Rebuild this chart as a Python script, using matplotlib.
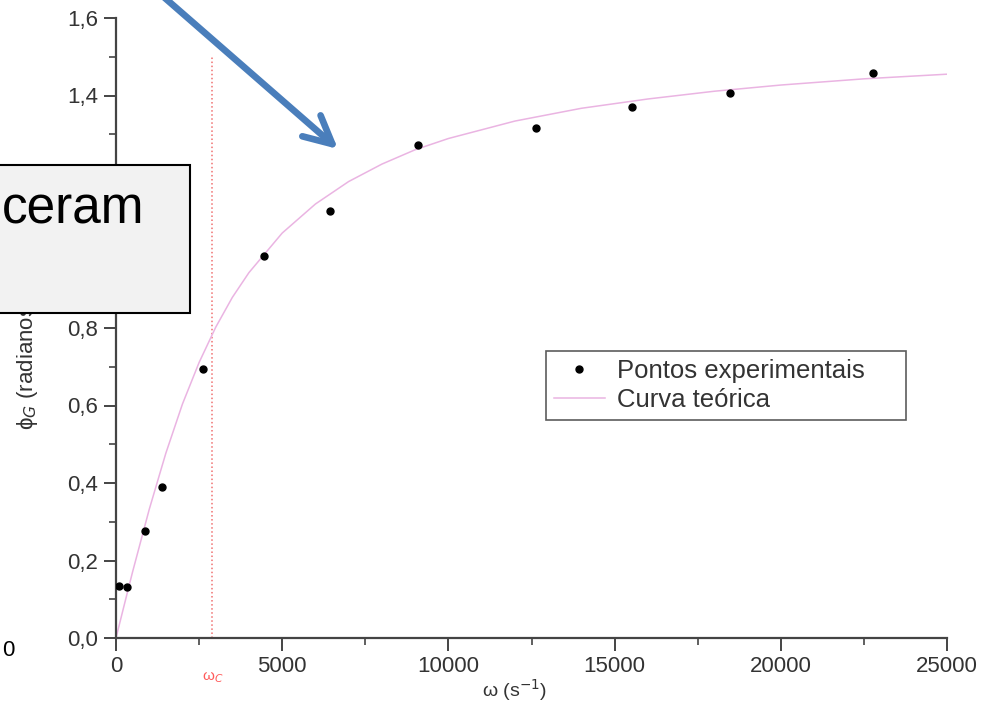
import matplotlib.pyplot as plt
from matplotlib.patches import Rectangle
from matplotlib.ticker import FuncFormatter, MultipleLocator

plt.rcParams['font.family'] = ['Liberation Sans', 'DejaVu Sans']

# experimental points (omega in s^-1, phase in rad)
w_exp = [100, 330, 870, 1380, 2620, 4450, 6440, 9080, 12630, 15520, 18470, 22770]
phi_exp = [0.135, 0.132, 0.276, 0.390, 0.695, 0.985, 1.101, 1.271, 1.315, 1.370, 1.406, 1.457]

# theoretical curve
w_teo = [0, 250, 500, 1000, 1500, 2000, 2500, 3000, 3500, 4000, 5000, 6000,
         7000, 8000, 9000, 10000, 12000, 14000, 16000, 18000, 20000, 22500, 25000]
phi_teo = [0.0, 0.086, 0.171, 0.332, 0.477, 0.604, 0.711, 0.802, 0.879, 0.943, 1.045, 1.120,
           1.178, 1.223, 1.260, 1.289, 1.334, 1.367, 1.391, 1.411, 1.427, 1.443, 1.455]

w_c = 2900
w_c_top = 1.5

fig = plt.figure(figsize=(9.84, 7.08), dpi=100)
ax = fig.add_axes([116/984, 1 - 638/708, (947 - 116)/984, (638 - 18)/708])

ax.plot(w_teo, phi_teo, color='#eab4e2', lw=1.1, label='Curva teórica', zorder=2)
ax.plot(w_exp, phi_exp, 'o', color='black', ms=5, label='Pontos experimentais', zorder=3)
ax.plot([w_c, w_c], [0, w_c_top], ls=':', color='#f07070', lw=1.1, zorder=1)

ax.set_xlim(0, 25000)
ax.set_ylim(0, 1.6)
for s in ['top', 'right']:
    ax.spines[s].set_visible(False)
for s in ['left', 'bottom']:
    ax.spines[s].set_linewidth(1.6)
    ax.spines[s].set_color('#444444')

ax.xaxis.set_major_locator(MultipleLocator(5000))
ax.xaxis.set_minor_locator(MultipleLocator(2500))
ax.yaxis.set_major_locator(MultipleLocator(0.2))
ax.yaxis.set_minor_locator(MultipleLocator(0.1))
ax.yaxis.set_major_formatter(FuncFormatter(lambda v, p: f"{v:.1f}".replace('.', ',')))
ax.tick_params(which='major', length=9, width=1.4, color='#444444',
               labelsize=16, labelcolor='#333333', pad=4)
ax.tick_params(which='minor', length=5, width=1.2, color='#444444')

# legend (box stretched to the width seen in the reference)
h, l = ax.get_legend_handles_labels()
leg = ax.legend(h[::-1], l[::-1], loc='upper left',
                bbox_to_anchor=(546/984, 1 - 416/708, 360/984, 65/708),
                bbox_transform=fig.transFigure, mode='expand', fontsize=18.5,
                frameon=True, fancybox=False, borderaxespad=0, handlelength=2.0,
                handletextpad=0.45, labelspacing=0.2, borderpad=0.3)
leg.get_frame().set_edgecolor('#333333')
leg.get_frame().set_linewidth(1.2)
for t in leg.get_texts():
    t.set_color('#333333')

# axis labels
fig.text(515/984, 1 - 690/708, 'ω (s$^{-1}$)', ha='center', va='center', fontsize=14, color='#333333')
fig.text(213/984, 1 - 678/708, 'ω$_C$', ha='center', va='center', fontsize=11, color='#ff5a5a')
fig.text(28/984, 1 - 430/708, 'ϕ$_G$ (radianos)', ha='center', va='bottom', rotation=90,
         fontsize=16, color='#333333')
fig.text(8/984, 1 - 650/708, '0', ha='center', va='center', fontsize=16, color='black')

# overlay box and arrow
box = Rectangle((-10/984, 1 - 313/708), 200/984, 148/708, transform=fig.transFigure,
                facecolor='#f2f2f2', edgecolor='black', lw=1.5, zorder=10, clip_on=False)
fig.patches.append(box)
fig.text(144/984, 1 - 210/708, 'ceram', ha='right', va='center', fontsize=37, color='black', zorder=11)

ax.annotate('', xy=(338/984, 1 - 149/708), xytext=(150/984, 1 + 15/708),
            xycoords='figure fraction', textcoords='figure fraction',
            arrowprops=dict(arrowstyle='->,head_length=2.0,head_width=1.0', color='#4a7ebb',
                            lw=4.8, shrinkA=0, shrinkB=0, capstyle='round', joinstyle='round'),
            annotation_clip=False)

fig.savefig('out.png', dpi=100)
